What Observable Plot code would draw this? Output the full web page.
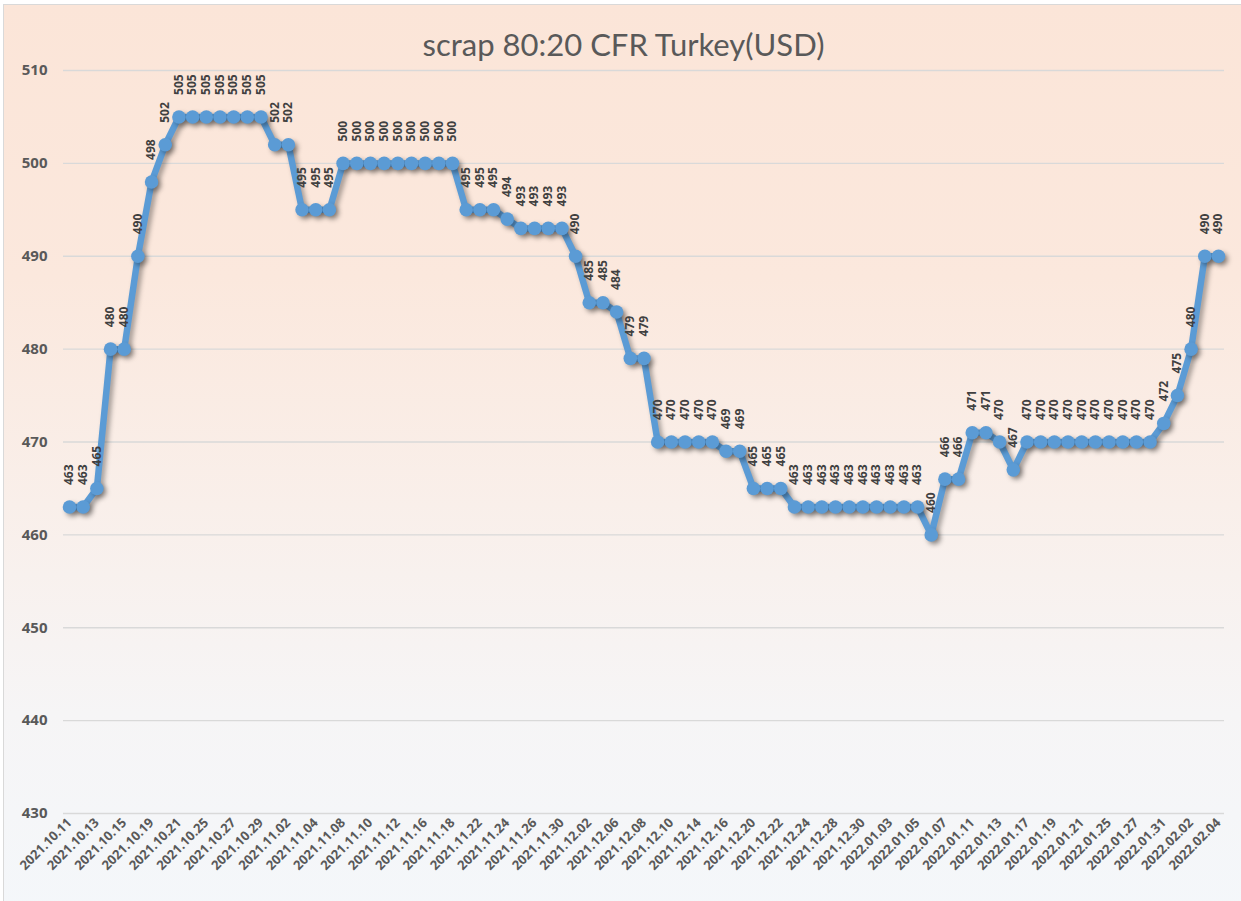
<!DOCTYPE html>
<html><head><meta charset="utf-8">
<script src="https://cdn.jsdelivr.net/npm/d3@7"></script>
<script src="https://cdn.jsdelivr.net/npm/@observablehq/plot@0.6"></script>
<style>
html,body{margin:0;padding:0;overflow:hidden;width:1241px;height:901px;background:#fff;}
#wrap{position:relative;width:1241px;height:901px;overflow:hidden;}
#frame{position:absolute;left:3px;top:4px;width:1250px;height:910px;border:1.5px solid #d9d9d9;box-sizing:border-box;
 background:linear-gradient(to bottom,#FBE5D8 0%,#FBE8DD 30%,#F9EFEA 55%,#F6F5F6 78%,#F4F7FA 100%);}
#title{position:absolute;left:0;top:29px;width:1247px;text-align:center;font-family:Lato,"Open Sans",sans-serif;font-size:31px;color:#595959;line-height:1;}
#chart{position:absolute;left:0;top:0;}
#chart svg text{font-family:"Open Sans",sans-serif !important;}
</style></head>
<body><div id="wrap"><div id="frame"></div><div id="title">scrap 80:20 CFR Turkey(USD)</div><div id="chart"></div></div>
<script>
const dates = [
"2021.10.11","2021.10.12","2021.10.13","2021.10.14","2021.10.15","2021.10.18","2021.10.19","2021.10.20","2021.10.21","2021.10.22","2021.10.25","2021.10.26","2021.10.27","2021.10.28","2021.10.29",
"2021.11.01","2021.11.02","2021.11.03","2021.11.04","2021.11.05","2021.11.08","2021.11.09","2021.11.10","2021.11.11","2021.11.12","2021.11.15","2021.11.16","2021.11.17","2021.11.18","2021.11.19","2021.11.22","2021.11.23","2021.11.24","2021.11.25","2021.11.26","2021.11.29","2021.11.30",
"2021.12.01","2021.12.02","2021.12.03","2021.12.06","2021.12.07","2021.12.08","2021.12.09","2021.12.10","2021.12.13","2021.12.14","2021.12.15","2021.12.16","2021.12.17","2021.12.20","2021.12.21","2021.12.22","2021.12.23","2021.12.24","2021.12.27","2021.12.28","2021.12.29","2021.12.30","2021.12.31",
"2022.01.03","2022.01.04","2022.01.05","2022.01.06","2022.01.07","2022.01.10","2022.01.11","2022.01.12","2022.01.13","2022.01.14","2022.01.17","2022.01.18","2022.01.19","2022.01.20","2022.01.21","2022.01.24","2022.01.25","2022.01.26","2022.01.27","2022.01.28","2022.01.31",
"2022.02.01","2022.02.02","2022.02.03","2022.02.04"];
const prices = [
463,463,465,480,480,490,498,502,
505,505,505,505,505,505,505,
502,502,495,495,495,
500,500,500,500,500,500,500,500,500,
495,495,495,494,493,493,493,493,490,
485,485,484,479,479,
470,470,470,470,470,469,469,
465,465,465,
463,463,463,463,463,463,463,463,463,463,
460,466,466,471,471,470,467,
470,470,470,470,470,470,470,470,470,470,
472,475,480,490,490];
const xTickLabels = dates.filter((d, i) => i % 2 === 0);
const yTicks = [430,440,450,460,470,480,490,500,510];

const data = dates.map((d, i) => ({date: d, price: prices[i]}));

const chart = Plot.plot({
  width: 1241, height: 901,
  marginTop: 70, marginBottom: 88, marginLeft: 63, marginRight: 17,
  style: {background: "transparent", fontFamily: "'Open Sans', sans-serif", overflow: "visible"},
  x: {type: "point", domain: dates, padding: 0.44, label: null, axis: null},
  y: {domain: [430, 510], label: null, axis: null},
  marks: [
    Plot.gridY(yTicks, {stroke: "#d9d9d9", strokeOpacity: 1, strokeWidth: 1.4}),
    Plot.axisY(yTicks, {tickSize: 0, tickPadding: 16, fontSize: 15, fontWeight: "bold", fill: "#595959", label: null}),
    Plot.axisX(xTickLabels, {tickSize: 0, tickPadding: 7, tickRotate: -45, fontSize: 13, fontWeight: "bold", fill: "#595959", label: null, ariaLabel: "x-axis tick label"}),
    Plot.line(data, {x: "date", y: "price", stroke: "#5B9BD5", strokeWidth: 6.5, strokeLinejoin: "round", strokeLinecap: "round"}),
    Plot.dot(data, {x: "date", y: "price", r: 6.8, fill: "#5B9BD5", stroke: null}),
    Plot.text(data, {x: "date", y: "price", text: d => String(d.price), rotate: -90, textAnchor: "start", dy: -22, fontSize: 12, fontWeight: "bold", fill: "#404040"})
  ]
});
document.getElementById("chart").appendChild(chart);
chart.querySelectorAll('g[aria-label="line"], g[aria-label="dot"]').forEach(g => {
  g.style.filter = "drop-shadow(3px 3px 2.5px rgba(0,0,0,0.35))";
});
chart.querySelectorAll('g[aria-label="x-axis tick label"] text').forEach(t => {
  t.style.letterSpacing = "0.5px";
});
</script>
</body></html>
